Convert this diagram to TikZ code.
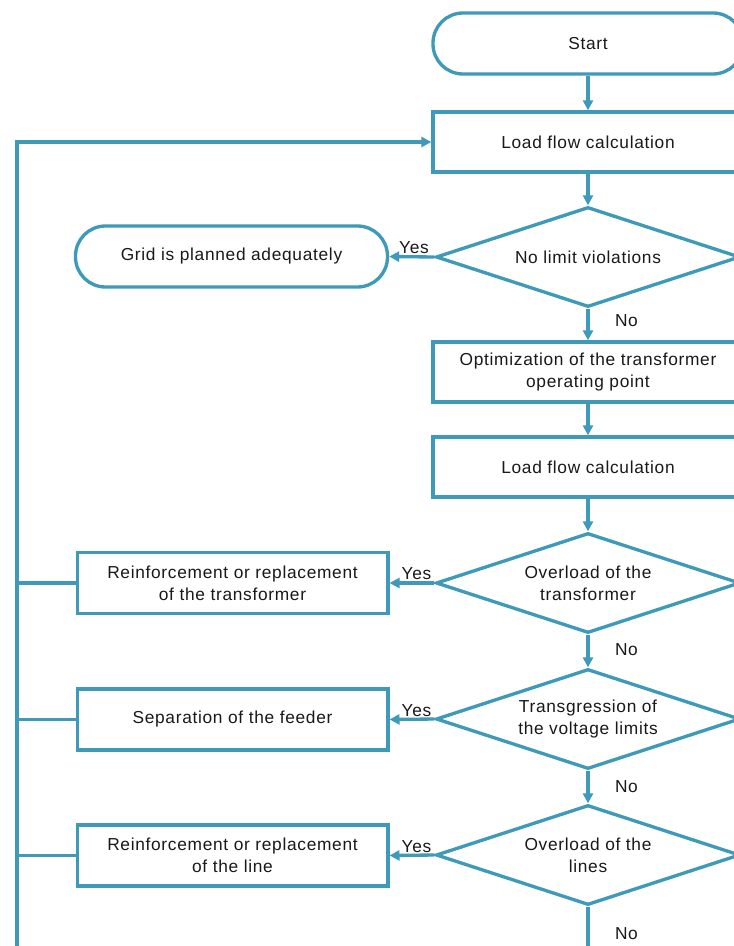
\documentclass[tikz,border=0pt]{standalone}
\usepackage{fontspec}
\setmainfont{Liberation Sans}[LetterSpace=4]
\usetikzlibrary{arrows.meta,shapes.geometric,calc}
\definecolor{flow}{RGB}{62,154,184}
\begin{document}
\begin{tikzpicture}[x=0.75pt,y=-0.75pt,
  every node/.style={font=\fontsize{13}{16.5}\selectfont, text=black!90},
  base/.style={draw=flow, line width=2.5pt, fill=white, align=center, inner sep=2pt},
  term/.style={base, rectangle, rounded corners=22.5pt, minimum width=232.5pt, minimum height=45.75pt},
  proc/.style={base, rectangle, minimum width=232.5pt, minimum height=45pt},
  sideproc/.style={base, rectangle, minimum width=233pt, minimum height=45.75pt},
  decision/.style={base, diamond, aspect=3, minimum width=228pt, minimum height=75pt, inner sep=0pt},
  conn/.style={draw=flow, line width=2.5pt},
  arr/.style={conn, -{Triangle[length=7.5pt,width=7.5pt]}},
  lbl/.style={font=\fontsize{13}{15}\selectfont, inner sep=1pt}
]
\clip (0,0) rectangle (734,946);
\fill[white] (0,0) rectangle (734,946);

% main column
\node[term] (start) at (588,43.5) {Start};
\node[proc] (lf1) at (588,142) {Load flow calculation};
\node[decision] (d1) at (588,257) {No limit violations};
\node[proc] (opt) at (588,372) {Optimization of the transformer\\operating point};
\node[proc] (lf2) at (588,467) {Load flow calculation};
\node[decision] (d2) at (588,583) {Overload of the\\transformer};
\node[decision] (d3) at (588,719) {Transgression of\\the voltage limits};
\node[decision] (d4) at (588,855) {Overload of the\\lines};

% side column
\node[term, minimum width=234pt] (grid) at (231.5,256.5) {Grid is planned adequately};
\node[sideproc] (rt) at (232.5,583) {Reinforcement or replacement\\of the transformer};
\node[sideproc] (sep) at (232.5,719.5) {Separation of the feeder};
\node[sideproc] (rl) at (232.5,855.5) {Reinforcement or replacement\\of the line};

% helper coordinates
\coordinate (bustop) at (17,142);
\coordinate (busbot) at (17,952);
\coordinate (endpt) at (588,952);

% main flow
\draw[arr] (start) -- (lf1);
\draw[arr] (lf1) -- (d1);
\draw[arr] (d1) -- node[lbl, right, xshift=18pt, yshift=3pt] {No} (opt);
\draw[arr] (opt) -- (lf2);
\draw[arr] (lf2) -- (d2);
\draw[arr] (d2) -- node[lbl, right, xshift=18pt, yshift=1pt] {No} (d3);
\draw[arr] (d3) -- node[lbl, right, xshift=18pt] {No} (d4);
\draw[conn] (d4) -- node[lbl, right, pos=0.6, xshift=18pt] {No} (endpt);

% yes branches
\draw[arr] (d1.west) -- node[lbl, above, pos=0.45] {Yes} (grid.east);
\draw[arr] (d2.west) -- node[lbl, above, pos=0.4] {Yes} (rt.east);
\draw[arr] (d3.west) -- node[lbl, above, pos=0.4] {Yes} (sep.east);
\draw[arr] (d4.west) -- node[lbl, above, pos=0.4] {Yes} (rl.east);

% feedback bus
\draw[arr] (busbot) -- (bustop) -- (lf1.west);
\draw[conn] (rt.west) -- (rt.west -| bustop);
\draw[conn] (sep.west) -- (sep.west -| bustop);
\draw[conn] (rl.west) -- (rl.west -| bustop);
\end{tikzpicture}
\end{document}
